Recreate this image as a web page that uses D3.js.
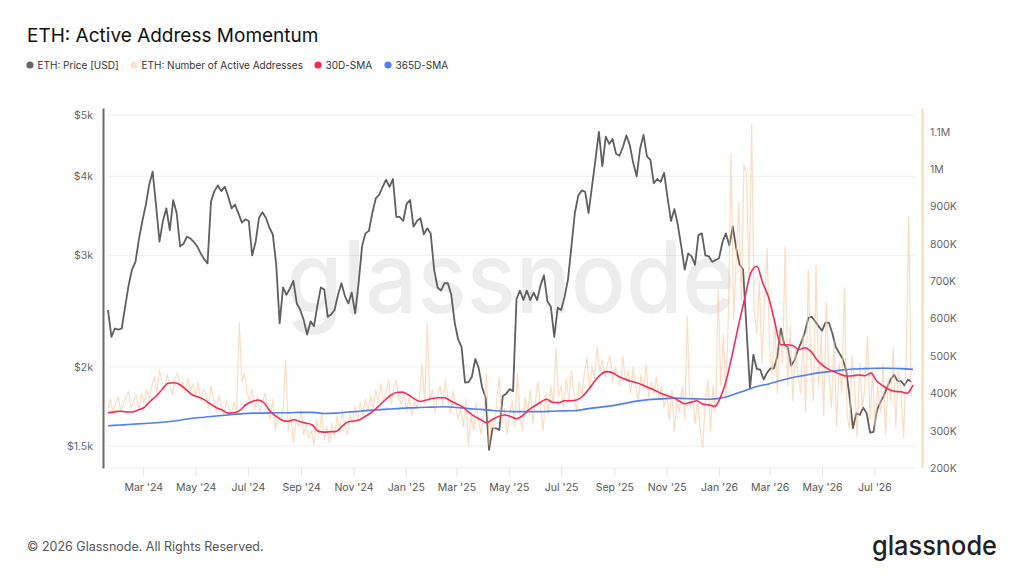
<!DOCTYPE html>
<html><head><meta charset="utf-8">
<script src="https://cdn.jsdelivr.net/npm/d3@7"></script>
<style>
body{margin:0;background:#fff;}
svg{display:block;font-family:Inter,"Noto Sans",sans-serif;}
</style>
</head><body>
<svg id="c" width="1024" height="576"></svg>
<script>
// ---------------- DATA ----------------
const startDate = "2024-01-20";
const endDate = "2026-08-15";

// ETH price (USD), one value every 4 days from startDate
const priceStepDays = 4;
const priceUSD = [
2460,2231,2300,2290,2300,2490,2690,2850,2930,3180,
3400,3600,3880,4067,3600,3153,3400,3560,3290,3669,
3500,3100,3130,3211,3190,3150,3100,3022,2960,2914,
3650,3790,3870,3790,3850,3720,3560,3610,3495,3380,
3420,3400,3000,3150,3440,3510,3440,3320,3240,2900,
2343,2670,2600,2660,2735,2519,2460,2373,2250,2360,
2320,2500,2670,2650,2400,2420,2460,2600,2711,2590,
2519,2620,2430,2711,3100,3250,3280,3500,3690,3740,
3850,3950,3850,3960,3450,3450,3400,3620,3669,3330,
3400,3435,3240,3310,3250,2850,2670,2640,2711,2711,
2600,2350,2210,2150,1890,1892,1930,2060,1990,1855,
1790,1480,1600,1600,1590,1800,1815,1845,1830,2560,
2640,2551,2640,2551,2620,2551,2690,2790,2540,2490,
2231,2480,2460,2580,2750,3100,3500,3730,3800,3780,
3500,3860,4250,4700,4150,4620,4500,4580,4340,4310,
4450,4640,4480,4200,4000,4420,4650,4300,4244,3899,
3960,3920,4050,3700,3400,3550,3350,3100,2850,3022,
2990,2900,3230,3250,3000,2990,2930,2950,2970,3150,
3250,3110,3330,3080,2900,2850,2300,1850,2090,1985,
1980,1910,1960,1990,1990,2080,2300,2170,2150,2010,
2050,2130,2190,2270,2390,2400,2360,2320,2281,2350,
2350,2260,2150,2105,2060,1980,1800,1600,1690,1680,
1725,1690,1575,1580,1710,1760,1800,1860,1910,1945,
1900,1900,1870,1910,1895
];

// Number of active addresses (thousands), one value every 3 days
const addrStepDays = 3;
const activeAddresses = [
360,385,345,375,392,350,370,
390,405,360,380,395,355,400,375,410,385,
420,445,400,462,430,410,450,425,395,440,455,415,430,400,
440,405,425,390,430,380,410,400,360,420,385,350,395,370,340,380,360,
345,375,355,
588,
430,455,400,380,410,360,390,350,375,400,
365,330,384,300,350,
325,360,
489,
300,340,268,330,310,355,290,320,280,
300,262,330,290,345,275,310,268,
320,285,340,300,355,310,290,345,320,365,330,375,340,385,350,
395,360,410,375,425,380,400,435,370,415,436,385,
370,400,350,390,340,380,360,395,
481,370,588,
380,410,350,395,420,365,436,390,345,405,370,330,
360,310,385,262,340,300,375,320,
290,350,454,262,330,300,380,444,320,360,290,345,
380,310,454,340,300,390,
350,410,320,380,430,360,300,400,345,420,370,521,390,
420,360,440,380,460,400,350,430,390,450,497,410,
470,440,525,460,490,445,480,500,430,470,455,420,
498,430,460,400,470,420,380,450,410,475,390,430,400,445,380,
420,360,400,330,410,297,380,350,420,330,605,360,400,320,380,300,
254,380,436,300,420,350,
677,
420,560,380,623,
1043,
600,760,909,650,1012,990,700,
1119,
620,
560,700,480,640,788,520,
450,600,400,560,480,793,420,580,380,520,450,
400,560,350,730,480,380,744,420,560,340,642,460,
360,540,310,480,400,682,350,
300,500,420,283,480,360,420,552,330,460,300,420,
350,480,290,440,380,520,310,460,400,280,480,873,390
];

// 30D SMA of active addresses (thousands), weekly
const sma30StepDays = 7;
const sma30 = [
348,350,352,350,350,355,362,378,392,410,
427,428,423,410,396,390,383,372,362,355,
347,348,355,370,378,382,374,352,338,328,
325,329,324,320,315,298,296,297,298,312,
324,326,330,340,350,365,380,394,402,403,
396,385,378,382,386,388,388,380,372,364,
350,338,330,321,330,338,342,338,332,340,
355,366,376,384,376,375,380,380,382,392,
410,432,450,458,455,445,438,432,428,422,
415,408,400,394,389,380,372,376,380,371,
369,365,391,440,510,585,655,722,740,695,
655,590,530,530,528,517,522,512,490,474,
464,457,450,446,447,449,447,454,432,420,
410,405,404,400,422
];

// 365D SMA of active addresses (thousands), every 14 days
const sma365StepDays = 14;
const sma365 = [
313,315,317,319,321,324,328,333,336,339,
342,345,347,347,348,348,349,349,346,347,
350,352,355,357,359,361,362,363,364,362,
359,357,354,352,351,351,351,352,353,354,
359,363,367,373,379,383,385,387,386,385,
384,387,396,407,418,425,434,442,448,454,
458,462,465,466,467,467,466,464
];

const priceTicks = [1500, 2000, 3000, 4000, 5000];
const priceTickLabels = ["$1.5k", "$2k", "$3k", "$4k", "$5k"];
const addrTicks = [200, 300, 400, 500, 600, 700, 800, 900, 1000, 1100];
const addrTickLabels = ["200K","300K","400K","500K","600K","700K","800K","900K","1M","1.1M"];
const monthTicks = ["2024-03-01","2024-05-01","2024-07-01","2024-09-01","2024-11-01",
  "2025-01-01","2025-03-01","2025-05-01","2025-07-01","2025-09-01","2025-11-01",
  "2026-01-01","2026-03-01","2026-05-01","2026-07-01"];

const legendNames = ["ETH: Price [USD]", "ETH: Number of Active Addresses", "30D-SMA", "365D-SMA"];
const legendColors = ["#666666", "#fde1c8", "#f42a58", "#4f7ff0"];

// ---------------- CHART ----------------
const svg = d3.select("#c");
const parse = d3.utcParse("%Y-%m-%d");
const t0 = parse(startDate);

const x = d3.scaleUtc().domain([t0, parse(endDate)]).range([108, 913]);
const yP = d3.scaleLog().domain([1385, 5127]).range([468, 108]);
const yA = d3.scaleLinear().domain([200, 1163.6]).range([468, 108]);

function series(arr, step) {
  return arr.map((v, i) => ({ date: d3.utcDay.offset(t0, i * step), v }));
}

// gridlines
svg.append("g").selectAll("line").data(priceTicks).join("line")
  .attr("x1", 108).attr("x2", 915)
  .attr("y1", d => yP(d)).attr("y2", d => yP(d))
  .attr("stroke", "#efefef").attr("stroke-width", 1);
svg.append("line").attr("x1", 108).attr("x2", 915).attr("y1", 468).attr("y2", 468)
  .attr("stroke", "#ececec");

// watermark
svg.append("text").attr("x", 286).attr("y", 313)
  .attr("font-size", 100).attr("font-weight", 500)
  .attr("textLength", 450).attr("lengthAdjust", "spacingAndGlyphs")
  .attr("fill", "#000").attr("fill-opacity", 0.07)
  .text("glassnode");

// x axis
const xAxis = d3.axisBottom(x)
  .tickValues(monthTicks.map(parse))
  .tickFormat(d3.utcFormat("%b '%y"))
  .tickSize(8).tickSizeOuter(0).tickPadding(8);
const gx = svg.append("g").attr("transform", "translate(0,468)").call(xAxis);
gx.select(".domain").remove();
gx.selectAll(".tick line").attr("stroke", "#e3e3e3");
gx.selectAll(".tick text").attr("fill", "#555").attr("font-size", 10.5)
  .attr("font-family", "Inter, 'Noto Sans', sans-serif");

// left axis
const yAxisL = d3.axisLeft(yP).tickValues(priceTicks)
  .tickFormat((d, i) => priceTickLabels[i]).tickSize(0).tickSizeOuter(0).tickPadding(10);
const gl = svg.append("g").attr("transform", "translate(103,0)").call(yAxisL);
gl.select(".domain").attr("stroke", "#6a6a6a").attr("stroke-width", 2);
gl.selectAll(".tick text").attr("fill", "#666").attr("font-size", 10.5)
  .attr("font-family", "Inter, 'Noto Sans', sans-serif");

// right axis
const yAxisR = d3.axisRight(yA).tickValues(addrTicks)
  .tickFormat((d, i) => addrTickLabels[i]).tickSize(0).tickSizeOuter(0).tickPadding(8);
const gr = svg.append("g").attr("transform", "translate(922,0)").call(yAxisR);
gr.select(".domain").attr("stroke", "#fdd6b6").attr("stroke-width", 2);
gr.selectAll(".tick text").attr("fill", "#666").attr("font-size", 10.5)
  .attr("font-family", "Inter, 'Noto Sans', sans-serif");

// lines
const priceData = series(priceUSD, priceStepDays);
const addrData = series(activeAddresses, addrStepDays);
const s30 = series(sma30, sma30StepDays);
const s365 = series(sma365, sma365StepDays);

const lineP = d3.line().x(d => x(d.date)).y(d => yP(d.v));
const lineA = d3.line().x(d => x(d.date)).y(d => yA(d.v));

svg.append("path").datum(priceData).attr("d", lineP)
  .attr("fill", "none").attr("stroke", "#5f5f5f").attr("stroke-width", 1.8)
  .attr("stroke-linejoin", "round");
svg.append("path").datum(addrData).attr("d", lineA)
  .attr("fill", "none").attr("stroke", "#fbc69c").attr("stroke-opacity", 0.62)
  .attr("stroke-width", 1.2).attr("stroke-linejoin", "round");
svg.append("path").datum(s365).attr("d", d3.line().x(d => x(d.date)).y(d => yA(d.v)).curve(d3.curveMonotoneX))
  .attr("fill", "none").attr("stroke", "#4f7ff0").attr("stroke-width", 1.6);
svg.append("path").datum(s30).attr("d", d3.line().x(d => x(d.date)).y(d => yA(d.v)).curve(d3.curveMonotoneX))
  .attr("fill", "none").attr("stroke", "#f42a58").attr("stroke-width", 1.6);

// title
svg.append("text").attr("x", 27).attr("y", 42)
  .attr("font-size", 19).attr("fill", "#111").text("ETH: Active Address Momentum");

// legend
const legX = [30, 134, 318, 388];
const leg = svg.append("g");
legendNames.forEach((n, i) => {
  leg.append("circle").attr("cx", legX[i]).attr("cy", 65).attr("r", 3.6).attr("fill", legendColors[i]);
  leg.append("text").attr("x", legX[i] + 7.5).attr("y", 65).attr("dy", "0.35em")
    .attr("font-size", 10).attr("fill", "#333").text(n);
});

// footer
svg.append("text").attr("x", 27).attr("y", 551)
  .attr("font-size", 12.5).attr("fill", "#555").text("© 2026 Glassnode. All Rights Reserved.");
svg.append("text").attr("x", 872).attr("y", 555)
  .attr("font-size", 27).attr("font-weight", 500).attr("fill", "#222")
  .attr("textLength", 125).attr("lengthAdjust", "spacingAndGlyphs").text("glassnode");
</script>
</body></html>
